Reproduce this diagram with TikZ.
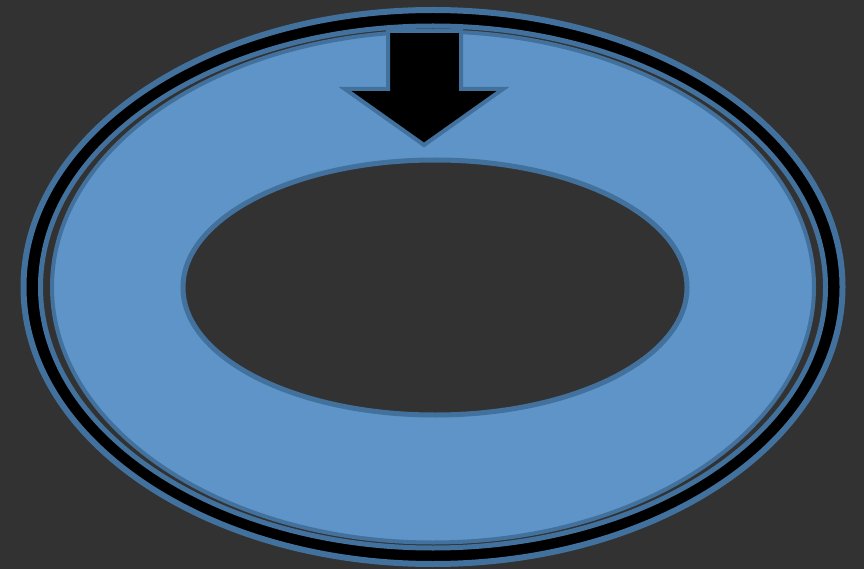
\documentclass[tikz,border=0pt]{standalone}
\usepackage{tikz}
\definecolor{bgdark}{RGB}{50,50,50}
\definecolor{ringblue}{RGB}{94,148,200}
\definecolor{edgeblue}{RGB}{65,113,156}

\begin{document}
\begin{tikzpicture}[x=1pt, y=-1pt,
    edge/.style={draw=edgeblue, line width=#1},
    edge/.default=4pt]

    % background
    \fill[bgdark] (0,0) rectangle (864,569);
    \useasboundingbox (0,0) rectangle (864,569);

    % outer rings
    \coordinate (c) at (433,287);
    \draw[edge=6pt, fill=black] (c) ellipse [x radius=409.5pt, y radius=277pt];
    \draw[edge=5pt, fill=bgdark] (c) ellipse [x radius=392.5pt, y radius=261pt];

    % donut
    \coordinate (h) at (435,287.5);
    \fill[ringblue, even odd rule] (c) ellipse [x radius=381pt, y radius=255.5pt]
        (h) ellipse [x radius=252pt, y radius=127.5pt];
    \draw[edge=4pt] (c) ellipse [x radius=381pt, y radius=255.5pt];
    \draw[edge=5pt] (h) ellipse [x radius=252pt, y radius=127.5pt];

    % arrow
    \draw[edge=4pt, fill=black, line join=miter]
        (388,31) -- (461,31) -- (461,89) -- (503,89) -- (424,145)
        -- (345,89) -- (388,89) -- cycle;
\end{tikzpicture}
\end{document}
